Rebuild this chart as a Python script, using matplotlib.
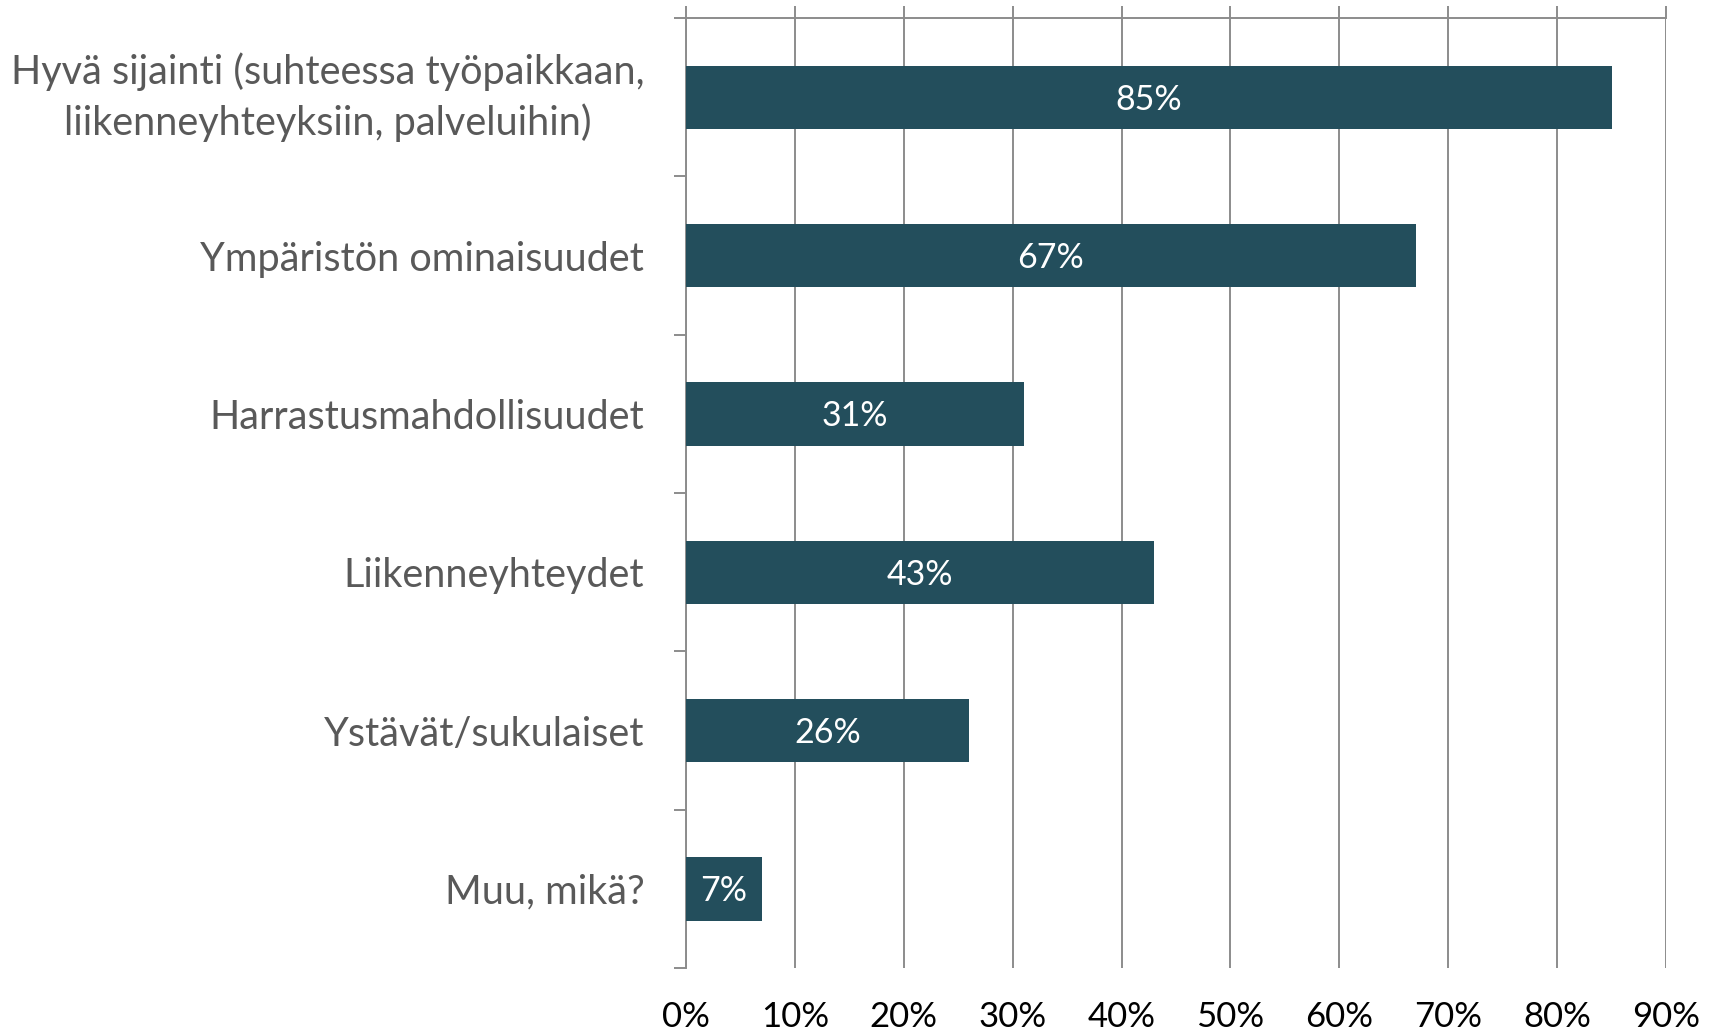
import numpy as np
import matplotlib.pyplot as plt

# Vastaukset
categories = [
    "Hyvä sijainti (suhteessa työpaikkaan,\nliikenneyhteyksiin, palveluihin)",
    "Ympäristön ominaisuudet",
    "Harrastusmahdollisuudet",
    "Liikenneyhteydet",
    "Ystävät/sukulaiset",
    "Muu, mikä?",
]
values = [85, 67, 31, 43, 26, 7]
xticks = [0, 10, 20, 30, 40, 50, 60, 70, 80, 90]

plt.rcParams['font.family'] = ['Lato', 'DejaVu Sans']

bar_color = '#234e5c'
grid_color = '#8c8c8c'

fig = plt.figure(figsize=(17.18, 10.31), dpi=100)
ax = fig.add_axes([0.3993, 0.0611, 0.5704, 0.9214])

y = np.arange(len(categories))
bars = ax.barh(y, values, height=0.4, color=bar_color, zorder=3)

for b, v in zip(bars, values):
    ax.text(b.get_x() + b.get_width() / 2, b.get_y() + b.get_height() / 2 + 0.015,
            f"{v}%", ha='center', va='center', color='white', fontsize=24.5, zorder=4)

ax.set_xlim(0, 90)
ax.set_ylim(len(categories) - 0.5, -0.5)

# x-akseli ylhäällä, tekstit alhaalla
ax.set_xticks(xticks)
ax.set_xticklabels([f"{t}%" for t in xticks])
ax.tick_params(axis='x', top=True, bottom=False, labeltop=False, labelbottom=True,
               direction='out', length=8.6, width=1.4, color=grid_color,
               labelsize=25, labelcolor='black', pad=15)
ax.grid(axis='x', color=grid_color, linewidth=1.4, zorder=0)

# y-akseli: tikit luokkien rajoilla
ax.set_yticks(y)
ax.set_yticklabels(categories, multialignment='center', linespacing=1.4)
ax.get_yticklabels()[0].set_va('center')
ax.set_yticks(np.arange(-0.5, len(categories), 1), minor=True)
ax.tick_params(axis='y', which='major', length=0, labelsize=28.5,
               labelcolor='#595959', pad=30)
ax.tick_params(axis='y', which='minor', length=9, width=1.4, color=grid_color)

for s in ['right', 'bottom']:
    ax.spines[s].set_visible(False)
for s in ['left', 'top']:
    ax.spines[s].set_color(grid_color)
    ax.spines[s].set_linewidth(1.4)

fig.savefig('out.png', dpi=100)
